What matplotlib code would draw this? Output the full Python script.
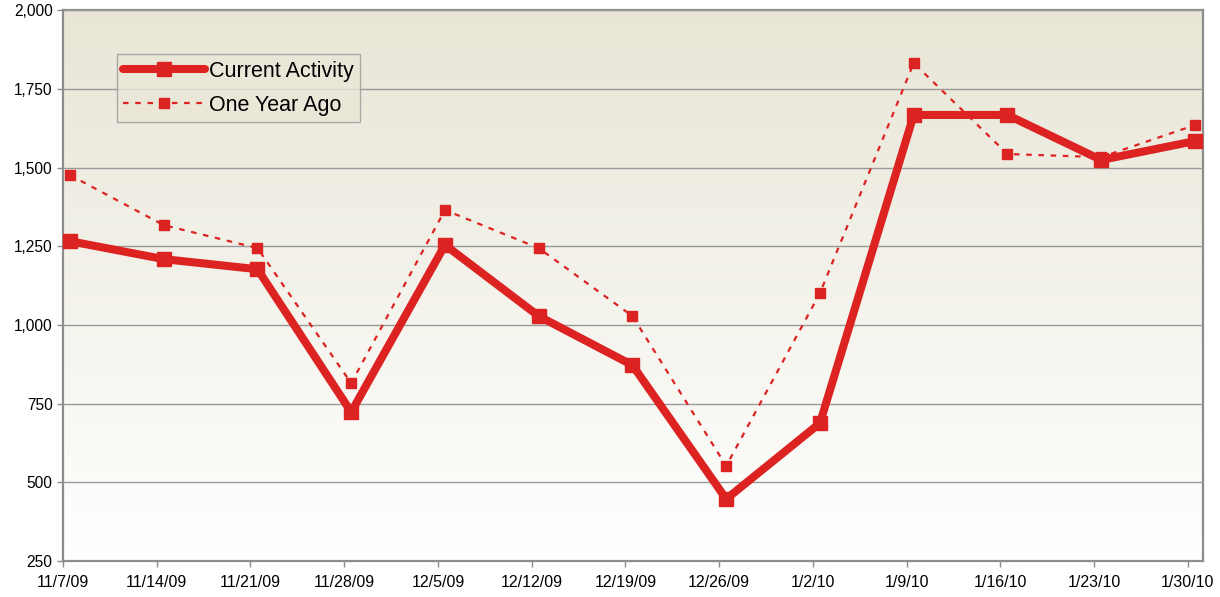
import matplotlib
matplotlib.use("Agg")
import matplotlib.pyplot as plt
import numpy as np

dates = ["11/7/09", "11/14/09", "11/21/09", "11/28/09", "12/5/09", "12/12/09",
         "12/19/09", "12/26/09", "1/2/10", "1/9/10", "1/16/10", "1/23/10", "1/30/10"]
current_activity = [1266, 1209, 1177, 723, 1254, 1028, 872, 447, 688, 1667, 1667, 1524, 1584]
one_year_ago = [1476, 1317, 1244, 815, 1365, 1244, 1028, 552, 1101, 1832, 1543, 1533, 1635]
y_ticks = [250, 500, 750, 1000, 1250, 1500, 1750, 2000]

red = "#DC2321"
plt.rcParams['font.family'] = ['Liberation Sans', 'DejaVu Sans']

fig = plt.figure(figsize=(12.2, 5.97), dpi=100)
ax = fig.add_axes([0.0516, 0.0603, 0.9344, 0.9227])

x = np.arange(len(dates))
off = 0.075
ax.set_xlim(-off, len(dates) - 1 + 0.085)
ax.set_ylim(250, 2000)

# gradient background
grad = np.linspace(0, 1, 256).reshape(-1, 1)
top = np.array([0.91, 0.90, 0.84])
bot = np.array([1.0, 1.0, 1.0])
img = top * (1 - grad[..., None]) + bot * grad[..., None]
img = img.reshape(256, 1, 3)
ax.imshow(img, extent=[0, 1, 0, 1], transform=ax.transAxes, aspect='auto', zorder=0)

ax.set_yticks(y_ticks)
ax.set_yticklabels([f"{v:,}" for v in y_ticks], fontsize=11.2)
ax.set_xticks(x - off)
ax.set_xticklabels(dates, fontsize=11.5)
ax.grid(axis='y', color='#999999', linewidth=1, zorder=1)
ax.set_axisbelow(False)

ax.plot(x, current_activity, color=red, linewidth=5.8, marker='s', markersize=10,
        solid_capstyle='round', label='Current Activity', zorder=4, clip_on=False)
ax.plot(x, one_year_ago, color=red, linewidth=1.6, linestyle=(0, (2.5, 3)), marker='s',
        markersize=7, label='One Year Ago', zorder=3, clip_on=False)

for s in ax.spines.values():
    s.set_color('#8c8c8c')
    s.set_linewidth(1.6)
ax.tick_params(axis='both', colors='#8c8c8c', labelcolor='black', length=4, width=1)
ax.tick_params(axis='x', pad=6)

leg = ax.legend(loc='upper left', bbox_to_anchor=(0.047, 0.92), fontsize=15.5,
                frameon=True, fancybox=False, handlelength=3.8, handletextpad=0.2,
                borderpad=0.3, labelspacing=0.6, borderaxespad=0)
leg.get_frame().set_facecolor('#EAE7D8')
leg.get_frame().set_edgecolor('#999999')
leg.get_frame().set_linewidth(1)

fig.savefig("out.png", dpi=100)
